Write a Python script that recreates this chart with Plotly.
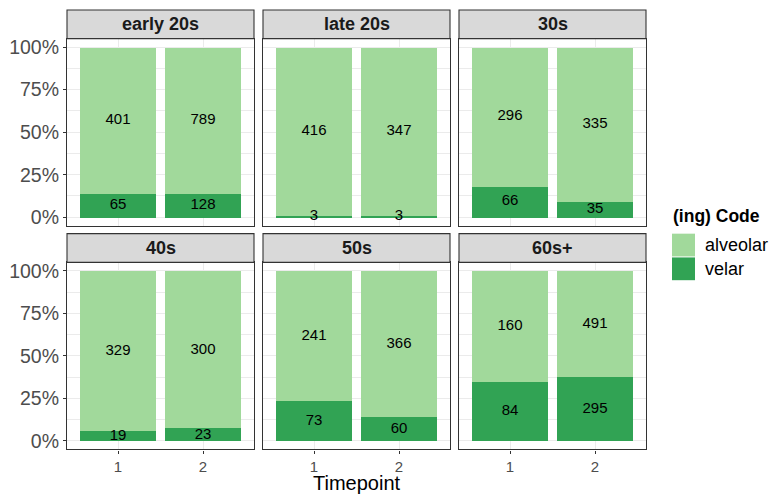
import plotly.graph_objects as go

# ---- data ----
age_groups = ["early 20s", "late 20s", "30s", "40s", "50s", "60s+"]
timepoints = [1, 2]
alveolar_counts = [[401, 789], [416, 347], [296, 335], [329, 300], [241, 366], [160, 491]]
velar_counts = [[65, 128], [3, 3], [66, 35], [19, 23], [73, 60], [84, 295]]
y_ticks = [0, 0.25, 0.5, 0.75, 1.0]
y_tick_labels = ["0%", "25%", "50%", "75%", "100%"]

COL_ALV = "#A1D99B"
COL_VEL = "#31A354"
FONT = "Liberation Sans, Arial, sans-serif"

W, H = 770, 499
col_px = [(67, 254), (263, 450), (459, 646)]
row_px = [(36, 225), (262, 451)]  # panel top, bottom (pixels)
STRIP_H = 29

def px_x(x):
    return x / W

def px_y(y):
    return 1 - y / H

fig = go.Figure()
layout = {}
shapes = []
annotations = []

for i, grp in enumerate(age_groups):
    r, c = divmod(i, 3)
    idx = i + 1
    xa = "x" if idx == 1 else f"x{idx}"
    ya = "y" if idx == 1 else f"y{idx}"
    alv = alveolar_counts[i]
    vel = velar_counts[i]
    tot = [a + v for a, v in zip(alv, vel)]
    p_vel = [v / t for v, t in zip(vel, tot)]
    p_alv = [a / t for a, t in zip(alv, tot)]

    fig.add_trace(go.Bar(x=timepoints, y=p_vel, width=0.9, marker=dict(color=COL_VEL, line=dict(width=0)),
                         xaxis=xa, yaxis=ya, showlegend=False, hoverinfo="skip"))
    fig.add_trace(go.Bar(x=timepoints, y=p_alv, width=0.9, marker=dict(color=COL_ALV, line=dict(width=0)),
                         xaxis=xa, yaxis=ya, showlegend=False, hoverinfo="skip"))
    # labels at segment middles
    ty = [pv / 2 for pv in p_vel] + [pv + pa / 2 for pv, pa in zip(p_vel, p_alv)]
    tt = [str(v) for v in vel] + [str(a) for a in alv]
    fig.add_trace(go.Scatter(x=timepoints + timepoints, y=ty, text=tt, mode="text",
                             textfont=dict(family=FONT, size=15, color="#000000"),
                             xaxis=xa, yaxis=ya, showlegend=False, hoverinfo="skip", cliponaxis=False))

    x0, x1 = col_px[c]
    y0, y1 = row_px[r]
    xkey = "xaxis" if idx == 1 else f"xaxis{idx}"
    ykey = "yaxis" if idx == 1 else f"yaxis{idx}"
    layout[xkey] = dict(domain=[px_x(x0), px_x(x1)], anchor=ya, range=[0.4, 2.6],
                        tickvals=timepoints, ticktext=[str(t) for t in timepoints],
                        showticklabels=(r == 1), ticks="outside" if r == 1 else "", ticklen=3,
                        tickcolor="#333333", tickfont=dict(family=FONT, size=15, color="#4D4D4D"),
                        showgrid=True, gridcolor="#EBEBEB", gridwidth=1.1,
                        showline=True, mirror=True, linecolor="#333333", linewidth=1.1,
                        zeroline=False, fixedrange=True)
    layout[ykey] = dict(domain=[px_y(y1), px_y(y0)], anchor=xa, range=[-0.05, 1.05],
                        tickvals=y_ticks, ticktext=y_tick_labels,
                        showticklabels=(c == 0), ticks="outside" if c == 0 else "", ticklen=3,
                        tickcolor="#333333", tickfont=dict(family=FONT, size=19.5, color="#4D4D4D"),
                        showgrid=True, gridcolor="#EBEBEB", gridwidth=1.1,
                        minor=dict(tickvals=[0.125, 0.375, 0.625, 0.875], showgrid=True,
                                   gridcolor="#EBEBEB", gridwidth=0.55, ticks=""),
                        showline=True, mirror=True, linecolor="#333333", linewidth=1.1,
                        zeroline=False, fixedrange=True)
    # strip
    shapes.append(dict(type="rect", xref="paper", yref="paper",
                       x0=px_x(x0), x1=px_x(x1), y0=px_y(y0), y1=px_y(y0 - STRIP_H),
                       fillcolor="#D9D9D9", line=dict(color="#333333", width=1.1), layer="above"))
    annotations.append(dict(xref="paper", yref="paper", x=px_x((x0 + x1) / 2), y=px_y(y0 - STRIP_H / 2),
                            text=f"<b>{grp}</b>", showarrow=False, xanchor="center", yanchor="middle",
                            font=dict(family=FONT, size=18, color="#1A1A1A")))

# axis title
annotations.append(dict(xref="paper", yref="paper", x=px_x(357), y=px_y(485), text="Timepoint",
                        showarrow=False, xanchor="center", yanchor="middle",
                        font=dict(family=FONT, size=20, color="#000000")))

# legend (manual)
annotations.append(dict(xref="paper", yref="paper", x=px_x(671), y=px_y(215), text="<b>(ing) Code</b>",
                        showarrow=False, xanchor="left", yanchor="middle",
                        font=dict(family=FONT, size=17.5, color="#000000")))
legend_items = [("alveolar", COL_ALV, 233), ("velar", COL_VEL, 257)]
for name, col, ytop in legend_items:
    shapes.append(dict(type="rect", xref="paper", yref="paper", x0=px_x(672), x1=px_x(695),
                       y0=px_y(ytop + 23), y1=px_y(ytop), fillcolor=col, line=dict(width=0)))
    annotations.append(dict(xref="paper", yref="paper", x=px_x(703), y=px_y(ytop + 11.5), text=name,
                            showarrow=False, xanchor="left", yanchor="middle",
                            font=dict(family=FONT, size=18, color="#000000")))

fig.update_layout(width=W, height=H, margin=dict(l=0, r=0, t=0, b=0), barmode="stack",
                  bargap=0, plot_bgcolor="#FFFFFF", paper_bgcolor="#FFFFFF",
                  shapes=shapes, annotations=annotations, showlegend=False,
                  font=dict(family=FONT), **layout)

fig.write_html("out.html", config={"displayModeBar": False},
               post_script="document.body.style.margin='0';")
